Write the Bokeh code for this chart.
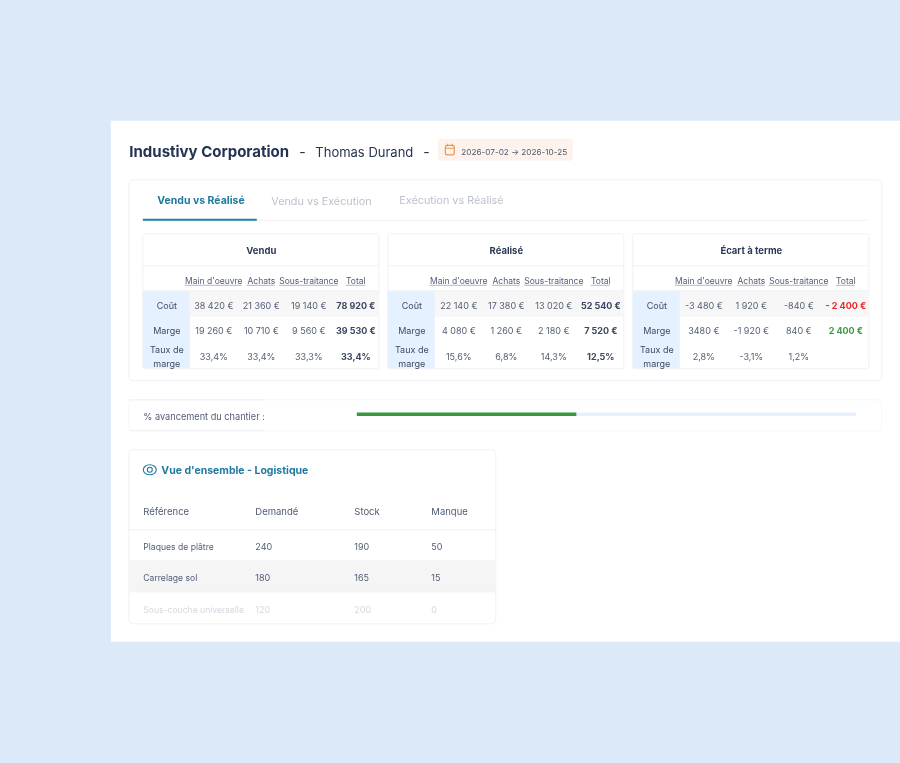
from bokeh.core.properties import value
from bokeh.embed import file_html
from bokeh.models import ColumnDataSource, Range1d
from bokeh.plotting import figure
from bokeh.resources import INLINE

# Data
company = "Industivy Corporation"
person = "Thomas Durand"
date_span = "2026-07-02 → 2026-10-25"
tabs = ["Vendu vs Réalisé", "Vendu vs Exécution", "Exécution vs Réalisé"]

table_titles = ["Vendu", "Réalisé", "Écart à terme"]
col_labels = ["Main d'oeuvre", "Achats", "Sous-traitance", "Total"]
row_labels = ["Coût", "Marge"]

vendu_cout = ["38 420 €", "21 360 €", "19 140 €", "78 920 €"]
vendu_marge = ["19 260 €", "10 710 €", "9 560 €", "39 530 €"]
vendu_taux = ["33,4%", "33,4%", "33,3%", "33,4%"]
realise_cout = ["22 140 €", "17 380 €", "13 020 €", "52 540 €"]
realise_marge = ["4 080 €", "1 260 €", "2 180 €", "7 520 €"]
realise_taux = ["15,6%", "6,8%", "14,3%", "12,5%"]
ecart_cout = ["-3 480 €", "1 920 €", "-840 €", "- 2 400 €"]
ecart_marge = ["3480 €", "-1 920 €", "840 €", "2 400 €"]
ecart_taux = ["2,8%", "-3,1%", "1,2%", ""]

progress_label = "% avancement du chantier :"
progress_pct = 44

stock_title = "Vue d'ensemble - Logistique"
stock_cols = ["Référence", "Demandé", "Stock", "Manque"]
stock_refs = ["Plaques de plâtre", "Carrelage sol", "Sous-couche universelle"]
stock_demande = [240, 180, 120]
stock_stock = [190, 165, 200]
stock_manque = [50, 15, 0]

BG = "#dbe9f9"
INK = "#243352"
TEXT = "#525d75"
LINE = "#f0f1f3"
TEAL = "#1f7a9e"
FONT = "Inter"

# ranges are in screen pixels, nudged so the rounded edges land where they should
p = figure(width=900, height=763, output_backend="svg", toolbar_location=None,
           x_range=Range1d(0.7, 900.7), y_range=Range1d(763.7, 0.7),
           x_axis_location=None, y_axis_location=None,
           min_border=0, outline_line_color=None, background_fill_color=BG,
           border_fill_color=BG)
p.grid.visible = False
p.styles = {"background": BG, "filter": "blur(0.35px)"}

# percent scale of the progress track
p.extra_x_ranges["pct"] = Range1d((0.7 - 357) / 4.99, (900.7 - 357) / 4.99)


def put(xs, ys, texts, size, color, bold=False, align="left"):
    src = ColumnDataSource(dict(x=xs, y=ys, t=texts))
    p.text("x", "y", "t", source=src, text_font=value(FONT), text_font_size=f"{size}px",
           text_color=color, text_align=align, text_baseline="middle",
           text_font_style="bold" if bold else "normal", x_offset=0.5, y_offset=0.8)


def card(x0, x1, y0, y1, fill="#ffffff", line=LINE, radius=4):
    p.quad(left=x0, right=x1, top=y0, bottom=y1, fill_color=fill, line_color=line,
           line_width=1, border_radius=radius)


# white panel
p.quad(left=111, right=902, top=121, bottom=642, fill_color="#ffffff", line_color=None)

# header
put([129], [151], [company], 15, INK, bold=True)
put([299], [151], ["-"], 14, INK)
put([315], [151], [person], 13, INK)
put([423], [151], ["-"], 14, INK)
card(438, 573, 139, 161, fill="#fdf3ec", line=None, radius=3)
put([461], [151], [date_span], 8.2, "#4f5a70")
# calendar icon
p.quad(left=445.5, right=454.5, top=145.5, bottom=155, fill_color=None, line_color="#e8985a", line_width=1.2, border_radius=2)
p.segment([445.5, 447.5, 452.5], [148.5, 144, 144], [454.5, 447.5, 452.5], [148.5, 146.5, 146.5], line_color="#e8985a", line_width=1.1)

# main card and tabs
card(129, 882, 180, 381)
p.segment(143, 220.5, 868, 220.5, line_color=LINE, line_width=1)
p.quad(left=143, right=257, top=219, bottom=221, fill_color="#2380a8", line_color=None)
put([271, 399], [201, 200], tabs[1:], 10.8, "#bcc1cc")
put([157], [200], [tabs[0]], 10.5, TEAL, bold=True)

# the three tables
col_offsets = [70.5, 118, 165.5, 212.5]
underline_half = [28.5, 14, 29.5, 9.5]
table_x = [143, 388, 633]
table_rows = [
    (vendu_cout, vendu_marge, vendu_taux),
    (realise_cout, realise_marge, realise_taux),
    (ecart_cout, ecart_marge, ecart_taux),
]
for x0, title, (cout, marge, taux) in zip(table_x, table_titles, table_rows):
    card(x0, x0 + 236, 234, 369, radius=2)
    p.quad(left=x0 + 47, right=x0 + 236, top=291, bottom=317, fill_color="#f7f7f8", line_color=None)
    p.quad(left=x0, right=x0 + 47, top=291, bottom=368.5, fill_color="#e5f1fe", line_color=None)
    p.segment(x0, 266, x0 + 236, 266, line_color=LINE)
    p.segment(x0, 291, x0 + 236, 291, line_color=LINE)
    put([x0 + 118], [250], [title], 9.5, "#2d3a55", bold=True, align="center")

    xs = [x0 + o for o in col_offsets]
    put(xs, [280] * 4, col_labels, 8.5, TEXT, align="center")
    p.segment([x - h for x, h in zip(xs, underline_half)], [285.5] * 4,
              [x + h for x, h in zip(xs, underline_half)], [285.5] * 4,
              line_color="#9aa6bd", line_width=0.8)

    put([x0 + 23.5] * 2, [305, 330], row_labels, 9, "#3d4a66", align="center")
    put([x0 + 23.5] * 2, [349, 363], ["Taux de", "marge"], 9, "#3d4a66", align="center")

    put(xs[:3], [305] * 3, cout[:3], 9, TEXT, align="center")
    put(xs[:3], [330] * 3, marge[:3], 9, TEXT, align="center")
    put(xs[:3], [356] * 3, taux[:3], 9, TEXT, align="center")

    total_cout = "#e8282b" if title.startswith("É") else "#3a4660"
    total_marge = "#3b9a41" if title.startswith("É") else "#3a4660"
    put([xs[3]], [305], [cout[3]], 9, total_cout, bold=True, align="center")
    put([xs[3]], [330], [marge[3]], 9, total_marge, bold=True, align="center")
    put([xs[3]], [356], [taux[3]], 9, "#3a4660", bold=True, align="center")

# progress card
card(129, 882, 400, 431, line="#f6f7f8")
p.segment([129, 129], [400, 431], [265, 265], [400, 431], line_color=LINE)
put([143], [416], [progress_label], 9.2, TEXT)
p.hbar(y=[414.5], left=[0], right=[100], height=3.5, fill_color="#e6f1fb", line_color=None, x_range_name="pct")
p.hbar(y=[414.5], left=[0], right=[progress_pct], height=3.5, fill_color="#3a983f", line_color=None, x_range_name="pct")

# logistics card
card(129, 496, 450, 624)
p.quad(left=129.5, right=495.5, top=561, bottom=592, fill_color="#f5f5f6", line_color=None)
p.segment([129] * 3, [530, 561, 592], [496] * 3, [530, 561, 592], line_color=LINE)
p.ellipse([150], [470], width=13, height=10, fill_color=None, line_color=TEAL, line_width=1.1)
p.ellipse([150], [470], width=5, height=5, fill_color=None, line_color=TEAL, line_width=1.1)
put([161], [470], [stock_title], 10.5, TEAL, bold=True)

stock_x = [143, 255, 354, 431]
put(stock_x, [511] * 4, stock_cols, 9.5, TEXT)
row_y = [546, 577, 609]
row_color = [TEXT, TEXT, "#d5d8df"]
for i, y in enumerate(row_y):
    put(stock_x[:1], [y], [stock_refs[i]], 8.6, row_color[i])
    put(stock_x[1:], [y] * 3, [str(stock_demande[i]), str(stock_stock[i]), str(stock_manque[i])], 9, row_color[i])

open("out.html", "w").write(file_html(p, INLINE))
